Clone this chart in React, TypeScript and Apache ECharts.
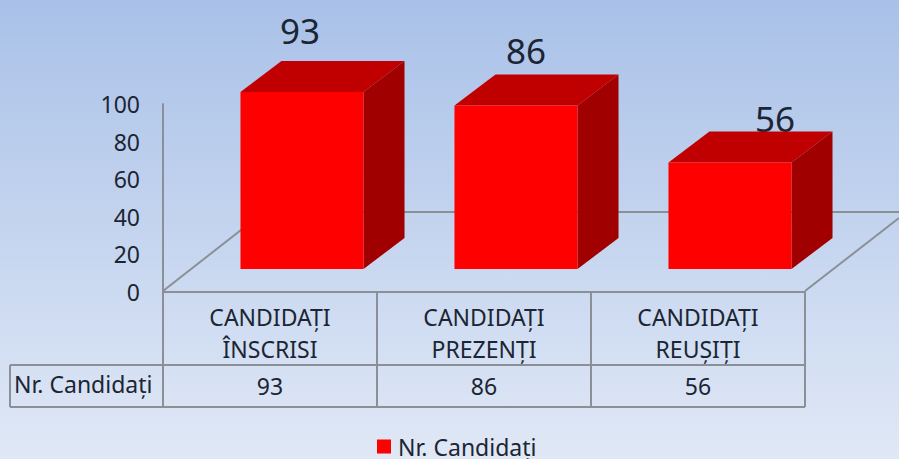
import React, { useEffect, useRef } from "react";
import * as echarts from "echarts";

const categories = ["CANDIDAȚI\nÎNSCRISI", "CANDIDAȚI\nPREZENȚI", "CANDIDAȚI\nREUȘIȚI"];
const seriesName = "Nr. Candidați";
const values = [93, 86, 56];
const yTicks = { min: 0, max: 100, interval: 20 };

const labelShiftX = [-2, 10, 45];
const labelShiftY = [-62, -55, -44];

const FONT = "'Noto Sans', sans-serif";
const INK = "#1c2533";
const GRID = "#8b9097";
const W = 899;
const H = 459;

function renderBar(params: any, api: any) {
  const i = api.value(0);
  const v = api.value(1);
  const top = api.coord([i, v]);
  const base = api.coord([i, 0]);
  const band = api.size([1, 0])[0];
  const w = band * 0.575;
  const sx = 32;
  const sy = -23;
  const dx = 41;
  const dy = -31;
  const x0 = base[0] + sx - w / 2;
  const x1 = x0 + w;
  const yb = base[1] + sy;
  const yt = yb - (base[1] - top[1]) * 1.012;
  return {
    type: "group",
    children: [
      {
        type: "text",
        style: {
          x: base[0] + sx + labelShiftX[i],
          y: yt + labelShiftY[i],
          text: String(v),
          fill: INK,
          font: `35px ${FONT}`,
          align: "center",
          verticalAlign: "middle",
        },
      },
      {
        type: "polygon",
        shape: { points: [[x0, yt], [x1, yt], [x1 + dx, yt + dy], [x0 + dx, yt + dy]] },
        style: { fill: "#c00000" },
      },
      {
        type: "polygon",
        shape: { points: [[x1, yt], [x1 + dx, yt + dy], [x1 + dx, yb + dy], [x1, yb]] },
        style: { fill: "#a00000" },
      },
      { type: "rect", shape: { x: x0, y: yt, width: w, height: yb - yt }, style: { fill: "#ff0000" } },
      {
        type: "text",
        style: {
          x: base[0],
          y: 386,
          text: String(v),
          fill: INK,
          font: `23px ${FONT}`,
          align: "center",
          verticalAlign: "middle",
        },
      },
    ],
  };
}

export default function App() {
  const ref = useRef<HTMLDivElement>(null);
  useEffect(() => {
    const chart = echarts.init(ref.current!, null, { renderer: "svg" });
    const line = (x1: number, y1: number, x2: number, y2: number) => ({
      type: "line",
      z: 0,
      shape: { x1, y1, x2, y2 },
      style: { stroke: GRID, lineWidth: 2 },
    });
    chart.setOption({
      animation: false,
      backgroundColor: {
        type: "linear",
        x: 0,
        y: 0,
        x2: 0,
        y2: 1,
        colorStops: [
          { offset: 0, color: "#a9c1e8" },
          { offset: 1, color: "#e0e8f6" },
        ],
      },
      textStyle: { fontFamily: FONT },
      grid: { left: 163, right: W - 805, top: 104, bottom: H - 292 },
      xAxis: {
        type: "category",
        data: categories,
        axisLine: { show: true, lineStyle: { color: GRID, width: 2 } },
        axisTick: { show: true, length: 115, lineStyle: { color: GRID, width: 2 } },
        axisLabel: { color: INK, fontSize: 23, lineHeight: 32, margin: 9, fontFamily: FONT, interval: 0 },
      },
      yAxis: {
        type: "value",
        ...yTicks,
        axisLine: { show: true, lineStyle: { color: GRID, width: 2 } },
        axisTick: { show: false },
        splitLine: { show: false },
        axisLabel: { color: INK, fontSize: 23, margin: 23, fontFamily: FONT },
      },
      legend: {
        data: [seriesName],
        left: 377,
        top: 435,
        padding: 0,
        icon: "rect",
        itemWidth: 14,
        itemHeight: 14,
        itemGap: 0,
        textStyle: { color: INK, fontSize: 23, fontFamily: FONT, padding: [0, 0, 0, 2] },
      },
      graphic: {
        elements: [
          line(163, 291, 264, 212),
          line(264, 212, 899, 212),
          line(805, 291, 899, 218),
          line(10, 365, 805, 365),
          line(10, 407, 805, 407),
          line(10, 365, 10, 407),
          {
            type: "text",
            z: 1,
            style: {
              x: 14,
              y: 384,
              text: seriesName,
              fill: INK,
              font: `23px ${FONT}`,
              verticalAlign: "middle",
            },
          },
        ],
      },
      series: [
        {
          type: "custom",
          name: seriesName,
          z: 5,
          clip: false,
          itemStyle: { color: "#ff0000" },
          renderItem: renderBar,
          encode: { x: 0, y: 1 },
          data: values.map((v, i) => [i, v]),
        },
      ],
    });
    return () => chart.dispose();
  }, []);
  return <div ref={ref} style={{ position: "absolute", left: 0, top: 0, width: W, height: H }} />;
}
